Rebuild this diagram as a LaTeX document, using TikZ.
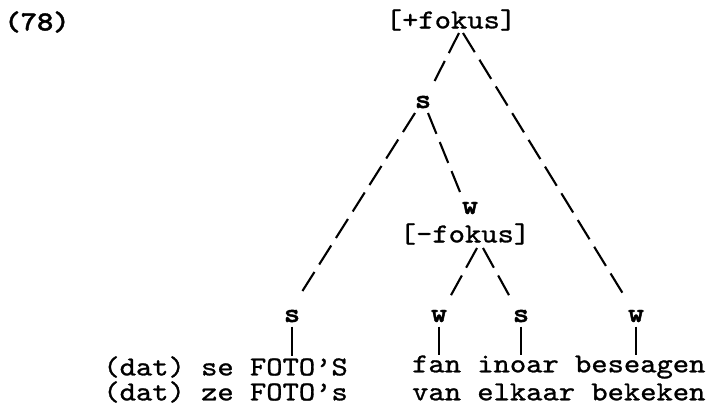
\documentclass[tikz,border=0pt]{standalone}
\usepackage{fontspec}
\usepackage{tikz}
\usetikzlibrary{positioning}
% typewriter faces, widened to the typed pitch
\newfontfamily\typew{lmmono10-regular}[Extension=.otf, FakeStretch=1.132, FakeBold=1]
\newfontfamily\typewb{lmmonolt10-bold}[Extension=.otf, FakeStretch=1.132, FakeBold=1.5]
\newcommand{\twsize}{\fontsize{19.5}{23}\selectfont}

\begin{document}
\begin{tikzpicture}[
    every node/.style={inner sep=0pt, font=\typew\twsize},
    lbl/.style={font=\typewb\twsize},
    branch/.style={line width=1.5pt, dash pattern=on 16pt off 6.3pt},
    tick/.style={line width=1.3pt}]
    % fixed canvas
    \useasboundingbox (0,0) rectangle (17.8,10.175);

    % --- Example number ---
    \node[lbl] (exnum) at (0.925, 9.625) {(78)};

    % --- Tree labels ---
    \node (pfoc) at (11.275, 9.675) {[+fokus]};
    \node[lbl] (sTop) at (10.575, 7.625) {s};
    \node[lbl] (wMid) at (11.75, 4.975) {w};
    \node (nfoc) at (11.625, 4.325) {[-fokus]};
    \node[lbl] (sFoto) at (7.3, 2.275) {s};
    \node[lbl] (wFan) at (10.975, 2.275) {w};
    \node[lbl] (sInoar) at (13.025, 2.275) {s};
    \node[lbl] (wBes) at (15.9, 2.275) {w};

    % --- Words (Frisian / Dutch) ---
    \node (frisL) at (5.64, 1.0) {(dat) se FOTO’S};
    \node (dutL) at (5.64, 0.375) {(dat) ze FOTO’s};
    \node (frisR) at (13.97, 1.0) {fan inoar beseagen};
    \node (dutR) at (13.97, 0.375) {van elkaar bekeken};

    % --- Dashed branches ---
    \draw[branch] ([shift={(0.2,-0.325)}]pfoc.center) -- ([shift={(0.2,0.35)}]sTop.center);
    \draw[branch] ([shift={(0.3,-0.325)}]pfoc.center) -- ([shift={(-0.275,0.475)}]wBes.center);
    \draw[branch] ([shift={(-0.2,-0.275)}]sTop.center) -- ([shift={(0.15,0.45)}]sFoto.center);
    \draw[branch] ([shift={(0.125,-0.275)}]sTop.center) -- ([shift={(-0.25,0.4)}]wMid.center);
    \draw[branch] ([shift={(0.3,-0.35)}]nfoc.center) -- ([shift={(0.275,0.475)}]wFan.center);
    \draw[branch] ([shift={(0.45,-0.35)}]nfoc.center) -- ([shift={(-0.275,0.475)}]sInoar.center);

    % --- Ticks down to the words ---
    \draw[tick] ([yshift=-3pt]sFoto.south) -- (sFoto |- frisL.north);
    \draw[tick] ([yshift=-3pt]wFan.south) -- (wFan |- frisR.north);
    \draw[tick] ([yshift=-3pt]sInoar.south) -- (sInoar |- frisR.north);
    \draw[tick] ([yshift=-3pt]wBes.south) -- (wBes |- frisR.north);
\end{tikzpicture}
\end{document}
